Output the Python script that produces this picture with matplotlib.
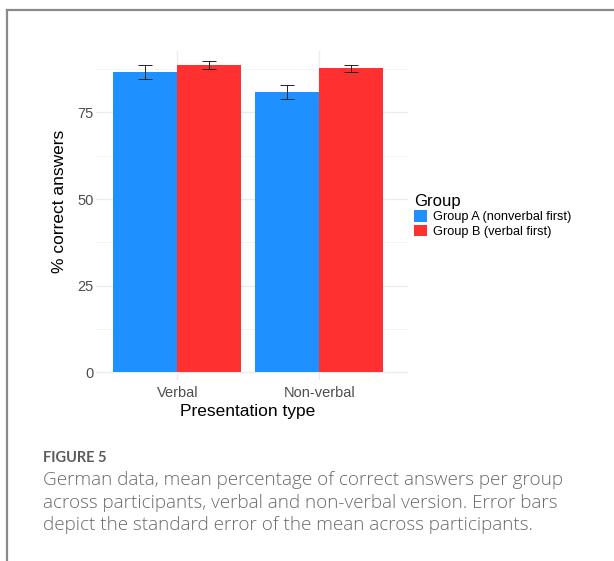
import matplotlib
matplotlib.use("Agg")
import matplotlib.pyplot as plt
from matplotlib.lines import Line2D
import numpy as np

categories = ["Verbal", "Non-verbal"]
groups = ["Group A (nonverbal first)", "Group B (verbal first)"]
group_a = [86.7, 80.9]
group_b = [88.7, 87.7]
err_a = [2.0, 2.0]
err_b = [1.05, 1.05]
yticks = [0, 25, 50, 75]
colors = ["#1E90FF", "#FF3030"]

W, H = 614, 561
fig = plt.figure(figsize=(W / 100, H / 100), dpi=100)
fig.patch.set_facecolor("white")

def fx(px):
    return px / W

def fy(py):
    return 1 - py / H

ax = fig.add_axes([fx(96), fy(380), fx(408) - fx(96), fy(51) - fy(380)])
ax.set_facecolor("white")

pos = np.arange(1, len(categories) + 1)
bw = 0.45
bars_a = ax.bar(pos - bw / 2, group_a, width=bw, color=colors[0], label=groups[0], zorder=2)
bars_b = ax.bar(pos + bw / 2, group_b, width=bw, color=colors[1], label=groups[1], zorder=2)
ax.errorbar(pos - bw / 2, group_a, yerr=err_a, fmt="none", ecolor="#222222",
            elinewidth=0.7, capsize=4.9, capthick=0.7, zorder=3)
ax.errorbar(pos + bw / 2, group_b, yerr=err_b, fmt="none", ecolor="#222222",
            elinewidth=0.7, capsize=4.9, capthick=0.7, zorder=3)

ax.set_xlim(0.4275, 2.6246)
ax.set_ylim(-2.2, 92.7)
ax.set_yticks(yticks)
ax.set_yticks([12.5, 37.5, 62.5, 87.5], minor=True)
ax.set_xticks(pos)
ax.set_xticklabels(categories)

ax.grid(True, which="major", color="#ececec", linewidth=1.0, zorder=0)
ax.grid(True, which="minor", axis="y", color="#f3f3f3", linewidth=0.6, zorder=0)
ax.set_axisbelow(True)
for s in ax.spines.values():
    s.set_visible(False)
ax.tick_params(axis="both", which="both", length=0, labelsize=10.5,
               labelcolor="#4d4d4d")
ax.tick_params(axis="y", pad=1.5)
ax.tick_params(axis="x", pad=4)
for lab in ax.get_xticklabels() + ax.get_yticklabels():
    lab.set_fontfamily("Liberation Sans")

ax.set_ylabel("% correct answers", fontsize=12.5, family="Liberation Sans", color="black")
ax.yaxis.set_label_coords((60 - 96) / 312, (380 - 201.5) / 329)
ax.yaxis.label.set_verticalalignment("center")
ax.set_xlabel("Presentation type", fontsize=12.5, family="Liberation Sans", color="black")
ax.xaxis.set_label_coords((248 - 96) / 312, (380 - 411.7) / 329)
ax.xaxis.label.set_verticalalignment("center")

leg = fig.legend(handles=[bars_a, bars_b], labels=groups, title="Group",
                 loc="upper left", bbox_to_anchor=(fx(414), fy(194)),
                 frameon=False, title_fontsize=12,
                 handlelength=1.0, handleheight=1.0, handletextpad=0.45,
                 labelspacing=0.1, borderpad=0, borderaxespad=0,
                 alignment="left", prop={"family": "Liberation Sans", "size": 9.2})
leg.get_title().set_fontfamily("Liberation Sans")

# frame lines of the figure panel
fig.add_artist(Line2D([fx(7), fx(7)], [fy(10), 0], color="#8a8a8a", linewidth=1.6))
fig.add_artist(Line2D([fx(7), 1], [fy(10), fy(10)], color="#8a8a8a", linewidth=1.6))

cap_color = "#5c5c5c"
fig.text(fx(43), fy(457.7), "FIGURE 5", fontsize=10.5, fontweight="bold",
         family="Lato", color=cap_color, va="center", ha="left")
caption_lines = [
    "German data, mean percentage of correct answers per group",
    "across participants, verbal and non-verbal version. Error bars",
    "depict the standard error of the mean across participants.",
]
for i, line in enumerate(caption_lines):
    fig.text(fx(43), fy(485 + 22.5 * i), line, fontsize=13.6, family="Open Sans",
             fontweight="light", color="#6a6a6a", va="baseline", ha="left")

fig.savefig("out.png", dpi=100, facecolor="white")
